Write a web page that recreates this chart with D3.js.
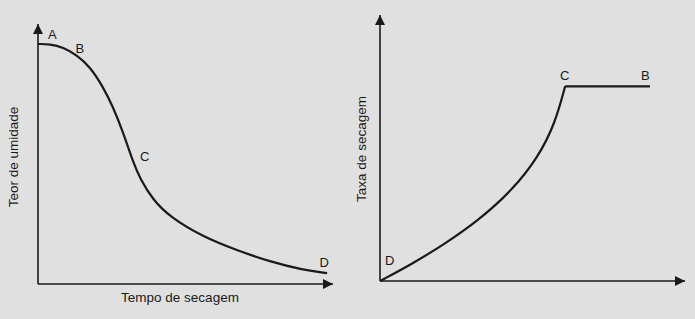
<!DOCTYPE html>
<html>
<head>
<meta charset="utf-8">
<script src="https://cdn.jsdelivr.net/npm/d3@7"></script>
<style>
  body { margin: 0; background: #e0e0e0; }
  svg { display: block; }
  text { font-family: "Liberation Sans", Arial, sans-serif; fill: #1a1a1a; }
</style>
</head>
<body>
<div id="area"></div>
<script>
// curva de umidade (teor x tempo)
const moistTime = [0, 4.1, 8.5, 13.1, 17.6, 22, 25.4, 28.8, 32.2, 34.6, 39, 44.7, 55.9, 67.5, 78.6, 89.8, 98]
const moistVal  = [92.3, 92.3, 91, 88.1, 83.6, 75.9, 68.2, 58.5, 47, 40.5, 32.3, 25.8, 18.1, 12.9, 8.6, 5.4, 4.2]
const moistLabels = ['A', 'B', 'C', 'D']
const moistLabelX = [3.4, 12.7, 34.6, 95.4]
const moistLabelY = [94.2, 88.8, 47.3, 6.5]

// taxa de secagem x teor de umidade
const rateX = [0, 10.5, 21.3, 32.1, 43.3, 51.8, 57.4, 60.7]
const rateY = [0, 6.4, 14, 22.6, 34, 46.4, 59.2, 73.2]
const flatX = [60.7, 88.5]
const flatY = [73.2, 73.2]
const rateLabels = ['C', 'B', 'D']
const rateLabelX = [59, 85.6, 1.6]
const rateLabelY = [75.6, 75.6, 6]

const svg = d3.select('#area')
            .append('svg')
            .attr('width', 695)
            .attr('height', 319)

const defs = svg.append('defs')
defs.append('marker')
    .attr('id', 'arrow')
    .attr('viewBox', '0 0 10 10')
    .attr('refX', 10)
    .attr('refY', 5)
    .attr('markerWidth', 11)
    .attr('markerHeight', 10)
    .attr('markerUnits', 'userSpaceOnUse')
    .attr('orient', 'auto')
    .append('path')
    .attr('d', 'M0,0 L10,5 L0,10 z')
    .attr('fill', '#1a1a1a')

function drawPanel(opt) {
  const x = d3.scaleLinear().domain([0, 100]).range([opt.x0, opt.x1])
  const y = d3.scaleLinear().domain([0, 100]).range([opt.y0, opt.y1])
  const g = svg.append('g')

  // eixos
  g.append('line')
    .attr('x1', x(0)).attr('y1', y(0))
    .attr('x2', x(0)).attr('y2', y(100))
    .attr('stroke', '#1a1a1a').attr('stroke-width', 1.6)
    .attr('marker-end', 'url(#arrow)')
  g.append('line')
    .attr('x1', x(0)).attr('y1', y(0))
    .attr('x2', x(100)).attr('y2', y(0))
    .attr('stroke', '#1a1a1a').attr('stroke-width', 1.6)
    .attr('marker-end', 'url(#arrow)')

  const line = d3.line()
                .x(d => x(d[0]))
                .y(d => y(d[1]))
                .curve(d3.curveBasis)

  opt.series.forEach(s => {
    g.append('path')
      .datum(d3.zip(s.xs, s.ys))
      .attr('d', line)
      .attr('fill', 'none')
      .attr('stroke', '#1a1a1a')
      .attr('stroke-width', 2.2)
  })

  g.selectAll('.pt')
    .data(opt.labels)
    .enter()
    .append('text')
    .attr('class', 'pt')
    .attr('x', (d, i) => x(opt.lx[i]))
    .attr('y', (d, i) => y(opt.ly[i]))
    .attr('font-size', 13)
    .text(d => d)

  g.append('text')
    .attr('transform', `translate(${opt.yLabelX},${opt.yLabelY}) rotate(-90)`)
    .attr('text-anchor', 'middle')
    .attr('font-size', 13.5)
    .text(opt.yTitle)

  if (opt.xTitle) {
    g.append('text')
      .attr('x', opt.xLabelX)
      .attr('y', opt.xLabelY)
      .attr('text-anchor', 'middle')
      .attr('font-size', 13.5)
      .text(opt.xTitle)
  }
}

drawPanel({
  x0: 38, x1: 333, y0: 284, y1: 24,
  series: [{ xs: moistTime, ys: moistVal }],
  labels: moistLabels, lx: moistLabelX, ly: moistLabelY,
  yTitle: 'Teor de umidade', yLabelX: 18, yLabelY: 157,
  xTitle: 'Tempo de secagem', xLabelX: 180, xLabelY: 302
})

drawPanel({
  x0: 380, x1: 685, y0: 281, y1: 15,
  series: [{ xs: rateX, ys: rateY }, { xs: flatX, ys: flatY }],
  labels: rateLabels, lx: rateLabelX, ly: rateLabelY,
  yTitle: 'Taxa de secagem', yLabelX: 366, yLabelY: 149
})
</script>
</body>
</html>
